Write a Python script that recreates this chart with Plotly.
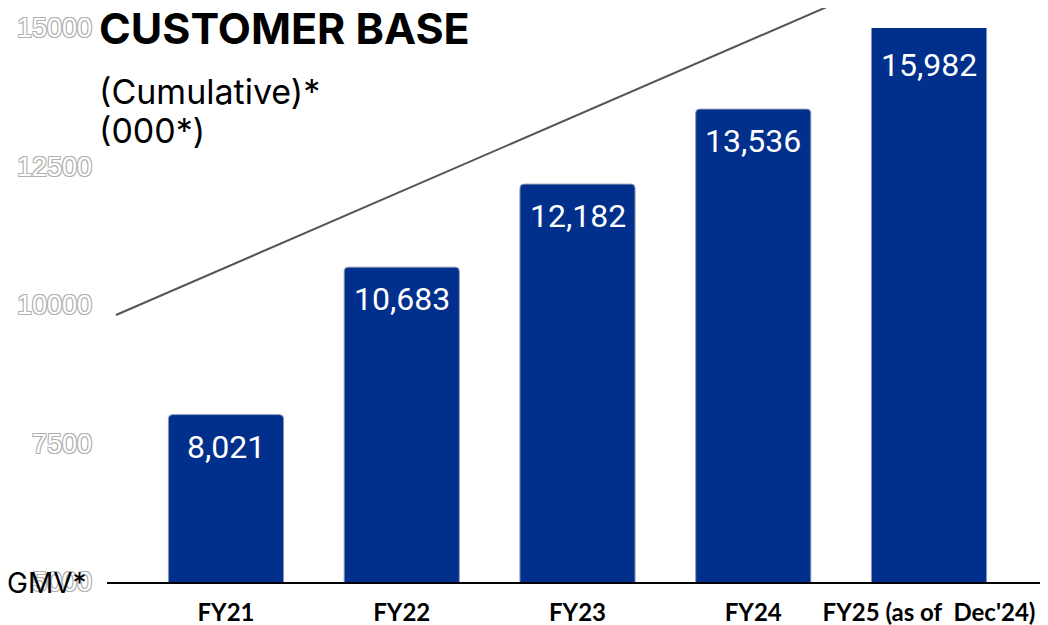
import plotly.graph_objects as go

categories = ["FY21", "FY22", "FY23", "FY24", "FY25 (as of \u00a0Dec'24)"]
customers = [8021, 10683, 12182, 13536, 15982]
y_ticks = [5000, 7500, 10000, 12500, 15000]
y_min, y_max = 5000, 15000

BAR_COLOR = "#00308C"
OUTLINE = "-1px -1px 0 #b0b0b0, 1px -1px 0 #b0b0b0, -1px 1px 0 #b0b0b0, 1px 1px 0 #b0b0b0"

fig = go.Figure()
fig.add_trace(go.Bar(
    x=categories,
    y=customers,
    width=0.655,
    marker=dict(color=BAR_COLOR, cornerradius=4, line=dict(color="#8d97b5", width=1)),
    hoverinfo="skip",
))

annotations = []
for c, v in zip(categories, customers):
    clipped = v > y_max
    annotations.append(dict(
        x=c, y=min(v, y_max), xref="x", yref="y",
        text=f"{v:,}", showarrow=False, yanchor="top", yshift=-16 if clipped else -11,
        font=dict(family="Roboto", size=32, color="white"),
    ))

# Title block
annotations += [
    dict(x=-0.0106, y=1.0, xref="paper", yref="paper", xanchor="left", yanchor="middle",
         text="<b>CUSTOMER BASE</b>", showarrow=False,
         font=dict(family="Inter", size=43, color="black", weight=800)),
    dict(x=-0.0106, y=0.8845, xref="paper", yref="paper", xanchor="left", yanchor="middle",
         text="(Cumulative)*", showarrow=False,
         font=dict(family="Inter", size=34, color="black")),
    dict(x=-0.0106, y=0.8141, xref="paper", yref="paper", xanchor="left", yanchor="middle",
         text="(000*)", showarrow=False,
         font=dict(family="Inter", size=34, color="black")),
    dict(x=-0.1085, y=-0.002, xref="paper", yref="paper", xanchor="left", yanchor="middle",
         text="GMV*", showarrow=False,
         font=dict(family="Inter", size=28, color="black")),
]

fig.update_layout(
    width=1040, height=617,
    margin=dict(l=99, r=0, t=20, b=43),
    plot_bgcolor="white", paper_bgcolor="white",
    showlegend=False,
    annotations=annotations,
    shapes=[dict(type="line", xref="paper", yref="paper",
                 x0=0.00956, y0=0.482, x1=0.782, y1=1.0505,
                 line=dict(color="#555555", width=2))],
    xaxis=dict(
        type="category", range=[-0.677, 4.677],
        showline=True, linecolor="black", linewidth=2,
        showgrid=False, ticks="",
        tickfont=dict(family="Lato", size=24, color="black", weight="bold"),
        ticklabelstandoff=8,
    ),
    yaxis=dict(
        range=[y_min, y_max], tickvals=y_ticks, ticktext=[str(t) for t in y_ticks],
        showgrid=False, zeroline=False, showline=False, ticks="",
        tickfont=dict(family="Liberation Sans", size=27, color="white", shadow=OUTLINE),
        ticklabelstandoff=14,
    ),
)

fig.write_html("out.html")
